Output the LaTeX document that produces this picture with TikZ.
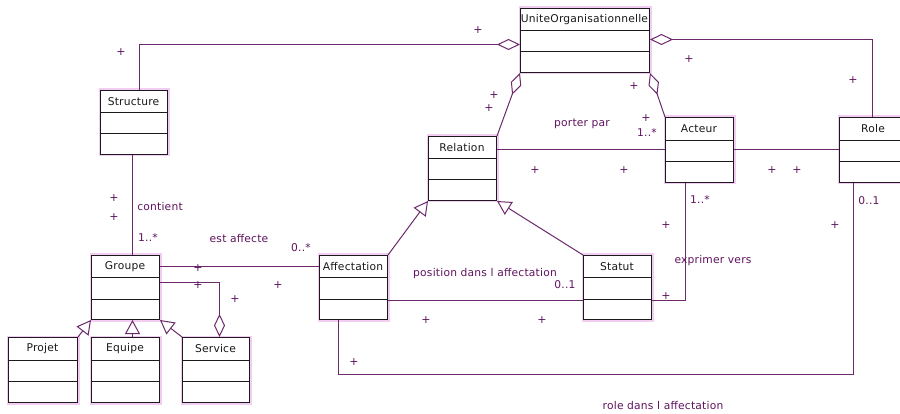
\documentclass[tikz,border=0pt]{standalone}
\usepackage{fontspec}
\newfontfamily\umlfont[LetterSpace=2]{DejaVu Sans}
\usetikzlibrary{arrows.meta,calc}
\definecolor{lnc}{RGB}{108,42,108}
\definecolor{txc}{RGB}{95,20,95}
\definecolor{shc}{RGB}{242,205,242}
\definecolor{bdc}{RGB}{30,25,30}
\tikzset{
  cbox/.style={draw=bdc, line width=1pt, fill=white, inner sep=0pt, anchor=north west},
  sepl/.style={draw=bdc, line width=1pt},
  ctitle/.style={font=\umlfont\fontsize{10.7}{12}\selectfont, text=black!90, inner sep=0pt},
  lbl/.style={font=\umlfont\fontsize{10.7}{12}\selectfont, text=txc, inner sep=0pt},
  pl/.style={font=\umlfont\fontsize{11}{12}\selectfont, text=txc, inner sep=0pt},
  assoc/.style={draw=lnc, line width=1pt},
  aggr/.style={assoc, {Diamond[open,length=23pt,width=11pt]}-},
  gen/.style={assoc, -{Triangle[open,length=14pt,width=15pt]}},
}
% name, x1, y1, x2, y2, first separator, title
\newcommand\umlclass[7]{%
  \fill[shc] (#2-1.5,#3-1.5) rectangle (#4+2.5,#5+2.5);
  \node[cbox, minimum width=#4-#2, minimum height=#5-#3] (#1) at (#2,#3) {};
  \draw[sepl] (#2,#6) -- (#4,#6);
  \draw[sepl] (#2,#6+21) -- (#4,#6+21);
  \node[ctitle] (#1t) at ({(#2+#4)/2},{(#3+#6)/2}) {#7};
}
\begin{document}
\begin{tikzpicture}[x=1pt,y=-1pt]
\useasboundingbox (0,0) rectangle (900,414);
\clip (0,0) rectangle (900,414);
\fill[white] (0,0) rectangle (900,414);

\umlclass{unite}{520}{8}{649}{72}{31}{UniteOrganisationnelle}
\umlclass{structure}{100}{90}{167}{154}{113}{Structure}
\umlclass{relation}{428}{136}{496}{200}{159}{Relation}
\umlclass{acteur}{665}{117}{733}{182}{141}{Acteur}
\umlclass{role}{839}{117}{907}{182}{141}{Role}
\umlclass{groupe}{91}{255}{159}{319}{278}{Groupe}
\umlclass{affect}{319}{255}{387}{319}{278}{Affectation}
\umlclass{statut}{583}{255}{651}{319}{278}{Statut}
\umlclass{projet}{8}{337}{77}{402}{360}{Projet}
\umlclass{equipe}{91}{337}{159}{402}{360}{Equipe}
\umlclass{service}{182}{337}{249}{402}{360}{Service}

% aggregations to UniteOrganisationnelle
\draw[aggr] ([yshift=-4pt]unite.west) -| ([xshift=5.5pt]structure.north);
\draw[aggr] ([yshift=1pt]unite.east) -| ([xshift=-1pt]role.north);
\draw[aggr] (unite.south west) -- (relation.north east);
\draw[aggr] (unite.south east) -- (acteur.north west);

% associations
\draw[assoc] (relation.east |- acteur.west) -- (acteur.west);
\draw[assoc] (acteur.east) -- (role.west);
\draw[assoc] ([xshift=-1.5pt]structure.south) -- ([xshift=-1.5pt]structure.south |- groupe.north);
\draw[assoc] ([yshift=21pt]groupe.east) -- ([yshift=21pt]affect.west);
\draw[aggr] ([xshift=3.5pt]service.north) |- ([yshift=5pt]groupe.east);
\draw[assoc] ([yshift=-13pt]affect.east) -- ([yshift=-13pt]statut.west);
\draw[assoc] ([yshift=-13pt]statut.east) -| ([xshift=-14pt]acteur.south);
\coordinate (arb) at (853.5,374.5);
\draw[assoc] ([xshift=-15pt]affect.south) |- (arb) -- (arb |- role.south);

% generalizations
\draw[gen] (projet.north east) -- (groupe.south west);
\draw[gen] ([xshift=7pt]equipe.north) -- ([xshift=7pt]groupe.south);
\draw[gen] (service.north west) -- (groupe.south east);
\draw[gen] (affect.north east) -- (relation.south west);
\draw[gen] (statut.north west) -- (relation.south east);

% labels
\node[lbl] (lporter) at (582,124) {porter par};
\node[lbl] (lm1) at (647,133) {1..*};
\node[lbl] (lcontient) at (160,207) {contient};
\node[lbl] (lm2) at (148,238) {1..*};
\node[lbl] (lest) at (239,239) {est affecte};
\node[lbl] (lm3) at (301,248) {0..*};
\node[lbl] (lpos) at (485,274) {position dans l affectation};
\node[lbl] (lm4) at (565,285) {0..1};
\node[lbl] (lm5) at (700,200) {1..*};
\node[lbl] (lexp) at (713,261) {exprimer vers};
\node[lbl] (lm6) at (869,201) {0..1};
\node[lbl] (lrole) at (663,406) {role dans l affectation};

% plus signs
\foreach \px/\py [count=\i] in {121/52, 478/30, 689/59, 853/80, 494/95, 489/108,
  634/86, 646/118, 535/170, 624/170, 772/170, 797/170, 114/198, 114/217,
  198/268, 198/285, 235/299, 278/285, 426/320, 542/320, 666/225, 666/296,
  354/362, 835/225}
  \node[pl] (p\i) at (\px,\py) {+};
\end{tikzpicture}
\end{document}
